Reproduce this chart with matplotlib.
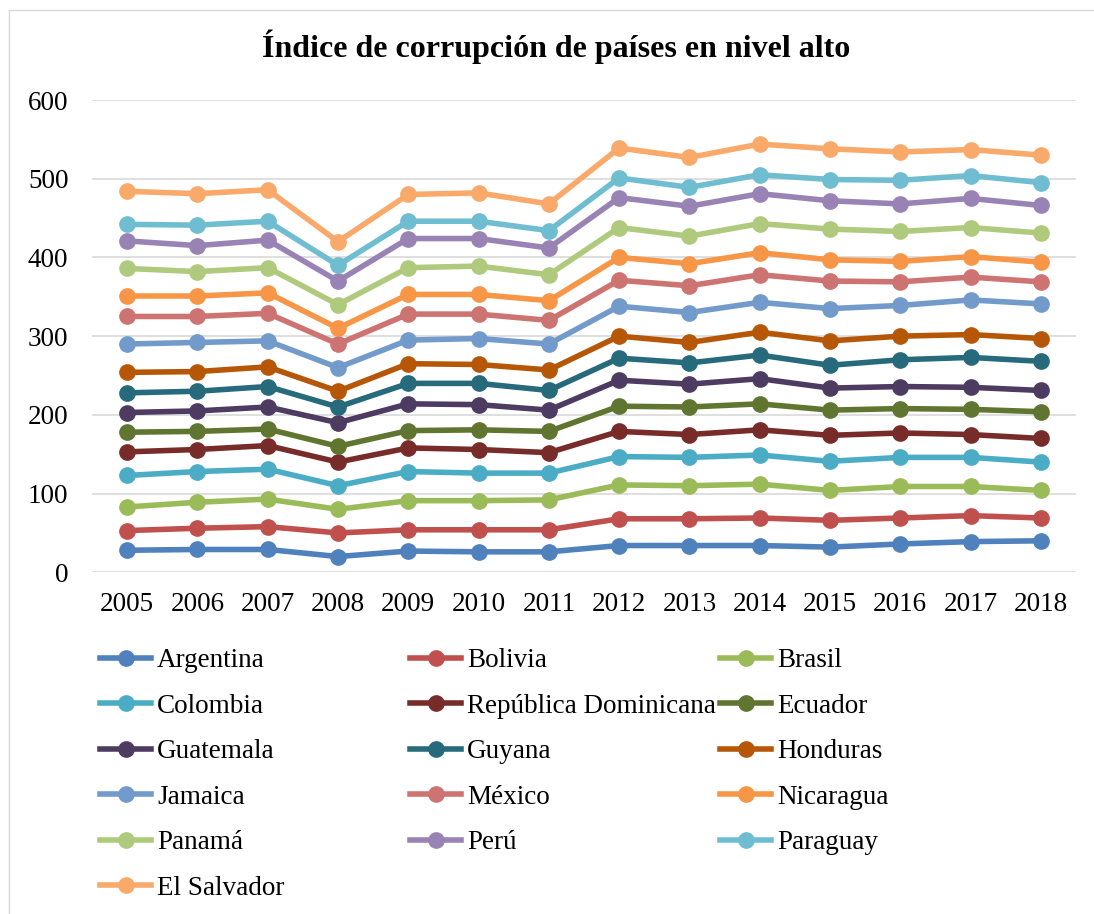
import numpy as np
import matplotlib.pyplot as plt
from matplotlib.lines import Line2D

years = ['2005', '2006', '2007', '2008', '2009', '2010', '2011',
         '2012', '2013', '2014', '2015', '2016', '2017', '2018']

# valores por país (la gráfica es de líneas apiladas)
argentina = [28, 29, 29, 20, 27, 26, 26, 34, 34, 34, 32, 36, 39, 40]
bolivia = [25, 27, 29, 30, 27, 28, 28, 34, 34, 35, 34, 33, 33, 29]
brasil = [30, 33, 35, 30, 37, 37, 38, 43, 42, 43, 38, 40, 37, 35]
colombia = [40, 39, 38, 30, 37, 35, 34, 36, 36, 37, 37, 37, 37, 36]
rep_dominicana = [30, 28, 30, 30, 30, 30, 26, 32, 29, 32, 33, 31, 29, 30]
ecuador = [25, 23, 21, 20, 22, 25, 27, 32, 35, 33, 32, 31, 32, 34]
guatemala = [25, 26, 28, 30, 34, 32, 27, 33, 29, 32, 28, 28, 28, 27]
guyana = [25, 25, 26, 20, 26, 27, 25, 28, 27, 30, 29, 34, 38, 37]
honduras = [26, 25, 25, 20, 25, 24, 26, 28, 26, 29, 31, 30, 29, 29]
jamaica = [36, 37, 33, 30, 30, 33, 33, 38, 38, 38, 41, 39, 44, 44]
mexico = [35, 33, 35, 30, 33, 31, 30, 33, 34, 35, 35, 30, 29, 28]
nicaragua = [26, 26, 26, 20, 25, 25, 25, 29, 28, 28, 27, 26, 26, 25]
panama = [35, 31, 32, 30, 34, 36, 33, 38, 35, 37, 39, 38, 37, 37]
peru = [35, 33, 35, 30, 37, 35, 34, 38, 38, 38, 36, 35, 37, 35]
paraguay = [21, 26, 24, 20, 22, 22, 22, 25, 24, 24, 27, 30, 29, 29]
el_salvador = [42, 40, 40, 30, 34, 36, 34, 38, 38, 39, 39, 36, 33, 35]

names = ['Argentina', 'Bolivia', 'Brasil', 'Colombia', 'República Dominicana',
         'Ecuador', 'Guatemala', 'Guyana', 'Honduras', 'Jamaica', 'México',
         'Nicaragua', 'Panamá', 'Perú', 'Paraguay', 'El Salvador']
series = [argentina, bolivia, brasil, colombia, rep_dominicana, ecuador,
          guatemala, guyana, honduras, jamaica, mexico, nicaragua, panama,
          peru, paraguay, el_salvador]
colors = ['#4F81BD', '#C0504D', '#9BBB59', '#4BACC6', '#772C2A', '#5F7530',
          '#4D3B62', '#276A7C', '#B65708', '#729ACA', '#CD7371', '#F79646',
          '#AFCA7D', '#9983B5', '#6FBDD1', '#F9AA6B']

plt.rcParams['font.family'] = 'Liberation Serif'

W, H = 1094, 914
fig = plt.figure(figsize=(W / 100, H / 100), dpi=100)
ax = fig.add_axes([92 / W, 1 - 572.3 / H, (1076 - 92) / W, (572.3 - 100) / H])

x = np.arange(len(years))
cum = np.zeros(len(years))
handles = []
for name, vals, col in zip(names, series, colors):
    cum = cum + np.array(vals)
    h, = ax.plot(x, cum, color=col, lw=4, marker='o', ms=11,
                 label=name, zorder=3)
    handles.append(h)

ax.set_xlim(-0.5, len(years) - 0.5)
ax.set_ylim(0, 600)
ax.set_yticks(range(0, 601, 100))
ax.set_xticks(x)
ax.set_xticklabels(years)
ax.grid(axis='y', color='#D9D9D9', lw=1.2)
ax.set_axisbelow(True)
for s in ax.spines.values():
    s.set_visible(False)
ax.tick_params(axis='both', length=0, labelsize=19.5)
ax.tick_params(axis='y', pad=17)
ax.tick_params(axis='x', pad=14)

fig.text(556 / W, 1 - 47 / H, 'Índice de corrupción de países en nivel alto',
         ha='center', va='center', fontsize=23, fontweight='bold')

# leyenda en tres columnas, llenada por filas
for i, xpx in enumerate([100, 410, 720]):
    fig.legend(handles[i::3], names[i::3], loc='upper left',
               bbox_to_anchor=(xpx / W, 1 - 648 / H), frameon=False,
               fontsize=19.5, handlelength=1.9, handletextpad=0.2,
               labelspacing=0.76, borderpad=0, borderaxespad=0)

# borde del área del gráfico
fig.add_artist(Line2D([8.5 / W, 8.5 / W], [0, 1 - 10 / H],
                      transform=fig.transFigure, color='#D9D9D9', lw=1))
fig.add_artist(Line2D([8.5 / W, 1], [1 - 10 / H, 1 - 10 / H],
                      transform=fig.transFigure, color='#D9D9D9', lw=1))

fig.savefig('out.png', dpi=100)
